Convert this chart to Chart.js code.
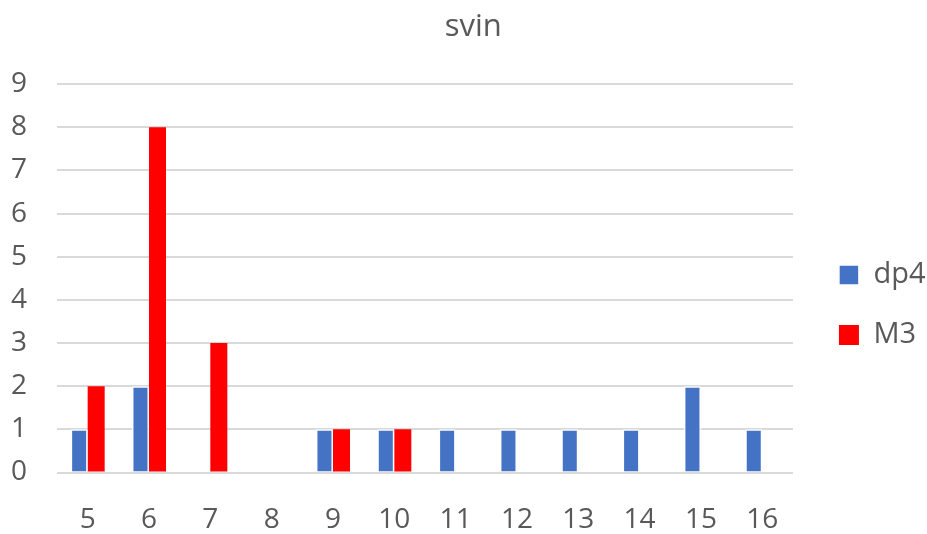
<!DOCTYPE html>
<html>
<head>
<meta charset="utf-8">
<script src="https://cdn.jsdelivr.net/npm/chart.js@4/dist/chart.umd.min.js"></script>
<style>
  html, body { margin: 0; padding: 0; background: #ffffff; }
  #wrap { width: 927px; height: 534px; position: relative; }
</style>
</head>
<body>
<div id="wrap"><canvas id="chart"></canvas></div>
<script>
// Counts per size class for the two groups
const categories = ['5', '6', '7', '8', '9', '10', '11', '12', '13', '14', '15', '16'];
const dp4 = [1, 2, 0, 0, 1, 1, 1, 1, 1, 1, 2, 1];
const m3 = [2, 8, 3, 0, 1, 1, 0, 0, 0, 0, 0, 0];
const yTicks = [0, 1, 2, 3, 4, 5, 6, 7, 8, 9];

const textGray = '#595959';
const family = '"Open Sans", "Noto Sans", sans-serif';

// Moves the legend block down next to the middle of the plot
const legendOffset = {
  id: 'legendOffset',
  afterLayout(chart) {
    const lg = chart.legend;
    if (lg) { lg.top += 38; lg.bottom += 38; }
  }
};

new Chart(document.getElementById('chart'), {
  type: 'bar',
  data: {
    labels: categories,
    datasets: [
      {
        label: 'dp4',
        data: dp4,
        backgroundColor: '#4472C4',
        borderColor: '#ffffff',
        borderWidth: 1.5,
        barPercentage: 1,
        categoryPercentage: 0.555
      },
      {
        label: 'M3',
        data: m3,
        backgroundColor: '#FF0000',
        borderWidth: 0,
        barPercentage: 1,
        categoryPercentage: 0.555
      }
    ]
  },
  plugins: [legendOffset],
  options: {
    responsive: true,
    maintainAspectRatio: false,
    animation: false,
    layout: { padding: { left: 11, right: -8.5, top: 0, bottom: 0 } },
    plugins: {
      title: {
        display: true,
        text: 'svin',
        color: textGray,
        font: { family, size: 31, weight: 'normal' },
        padding: { top: 9, bottom: 38 }
      },
      legend: {
        position: 'right',
        align: 'center',
        labels: {
          color: textGray,
          font: { family, size: 29 },
          boxWidth: 20,
          boxHeight: 20,
          padding: 31
        }
      },
      tooltip: { enabled: false }
    },
    scales: {
      x: {
        afterFit(scale) { scale.height = 61.5; },
        grid: { display: false, drawTicks: false },
        border: { display: false },
        ticks: {
          color: textGray,
          font: { family, size: 28 },
          padding: 30.5,
          maxRotation: 0
        }
      },
      y: {
        min: 0,
        max: 9,
        afterFit(scale) { scale.width = 46; },
        afterBuildTicks(scale) { scale.ticks = yTicks.map(v => ({ value: v })); },
        grid: { color: '#d9d9d9', lineWidth: 2, drawTicks: false },
        border: { display: false },
        ticks: {
          color: textGray,
          font: { family, size: 28 },
          padding: 30
        }
      },
      // spacer between the plot and the legend
      gap: {
        type: 'linear',
        position: 'right',
        display: true,
        afterFit(scale) { scale.width = 15; },
        grid: { display: false, drawTicks: false },
        border: { display: false },
        ticks: { display: false }
      }
    }
  }
});
</script>
</body>
</html>
